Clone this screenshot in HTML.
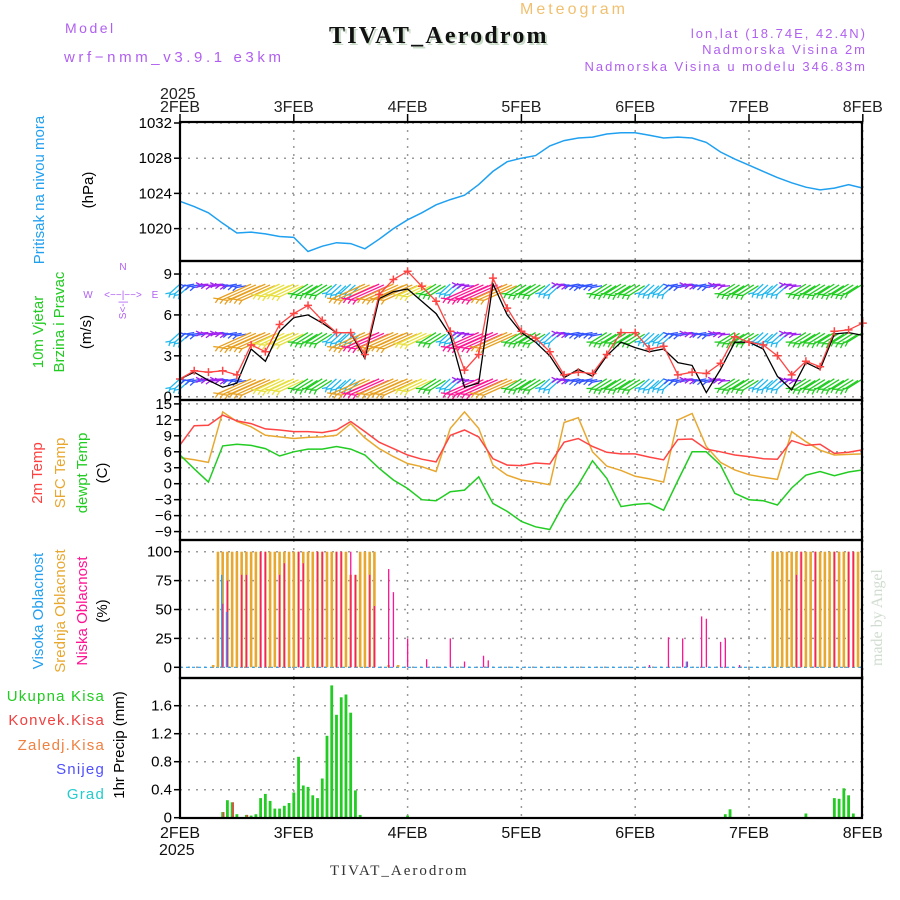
<!DOCTYPE html>
<html><head><meta charset="utf-8"><style>
html,body{margin:0;padding:0;background:#fff}
svg{display:block;font-family:"Liberation Sans",sans-serif}
</style></head><body>
<svg id="chart" width="900" height="900" viewBox="0 0 900 900" xmlns="http://www.w3.org/2000/svg">
<rect x="0" y="0" width="900" height="900" fill="#fff"/>
<text x="65" y="33" font-size="14" fill="#b060f0" letter-spacing="2.5">Model</text>
<text x="64" y="62" font-size="15" fill="#b060f0" letter-spacing="3.6">wrf−nmm_v3.9.1 e3km</text>
<text x="520" y="14" font-size="16" fill="#f0c070" letter-spacing="3">Meteogram</text>
<text x="331" y="45" font-size="24" font-weight="bold" font-family="Liberation Serif, serif" fill="#c8dcc8" letter-spacing="2.2">TIVAT_Aerodrom</text>
<text x="329" y="43" font-size="24" font-weight="bold" font-family="Liberation Serif, serif" fill="#111" letter-spacing="2.2">TIVAT_Aerodrom</text>
<g font-size="13" fill="#b060f0" text-anchor="end" letter-spacing="2">
<text x="867" y="38">lon,lat (18.74E, 42.4N)</text>
<text x="867" y="54">Nadmorska Visina 2m</text>
<text x="867" y="71">Nadmorska Visina u modelu 346.83m</text>
</g>
<text x="160" y="99" font-size="16" fill="#222">2025</text>
<text x="871" y="655" font-size="16" fill="#d0dcd0" font-family="Liberation Serif, serif" transform="rotate(-90 882 655)">made by Angel</text>
<text x="330" y="875" font-size="15" fill="#333" font-family="Liberation Serif, serif" letter-spacing="2">TIVAT_Aerodrom</text>
<text x="159" y="855" font-size="16" fill="#111">2025</text>
<g font-size="15" text-anchor="middle">
<text transform="translate(44,190) rotate(-90)" fill="#22a0f0">Pritisak na nivou mora</text>
<text transform="translate(93,190) rotate(-90)" fill="#000">(hPa)</text>
<text transform="translate(43,332) rotate(-90)" fill="#22cc22">10m Vjetar</text>
<text transform="translate(64,322) rotate(-90)" fill="#22cc22">Brzina i Pravac</text>
<text transform="translate(91,332) rotate(-90)" fill="#000">(m/s)</text>
<text transform="translate(42,473) rotate(-90)" fill="#ff4040">2m Temp</text>
<text transform="translate(65,473) rotate(-90)" fill="#e8a830">SFC Temp</text>
<text transform="translate(87,473) rotate(-90)" fill="#22cc22">dewpt Temp</text>
<text transform="translate(107,473) rotate(-90)" fill="#000">(C)</text>
<text transform="translate(43,611) rotate(-90)" fill="#22a0f0">Visoka Oblacnost</text>
<text transform="translate(65,611) rotate(-90)" fill="#e8a830">Srednja Oblacnost</text>
<text transform="translate(87,611) rotate(-90)" fill="#ff1493">Niska Oblacnost</text>
<text transform="translate(107,611) rotate(-90)" fill="#000">(%)</text>
<text transform="translate(124,745) rotate(-90)" fill="#000">1hr Precip (mm)</text>
</g>
<g font-size="15" text-anchor="end" letter-spacing="1.2">
<text x="105" y="701" fill="#22cc22">Ukupna Kisa</text>
<text x="105" y="725" fill="#f04040">Konvek.Kisa</text>
<text x="105" y="750" fill="#f08040">Zaledj.Kisa</text>
<text x="105" y="774" fill="#5050ff">Snijeg</text>
<text x="105" y="799" fill="#22cccc">Grad</text>
</g>
<g font-size="10" fill="#b060f0" text-anchor="middle">
<text x="123" y="270">N</text>
<text x="123" y="298">&lt;−−|−−&gt;</text>
<text x="88" y="298">W</text>
<text x="155" y="298">E</text>
<text transform="translate(126,310) rotate(-90)">S&lt;-|</text>
</g>
<g id="grid"></g>
<g id="marks"></g>
<g id="axes"></g>
</svg>
<script>
const days = ['2FEB','3FEB','4FEB','5FEB','6FEB','7FEB','8FEB'];
const pTicks = [1020,1024,1028,1032];
const wTicks = [0,3,6,9];
const tTicks = [-9,-6,-3,0,3,6,9,12,15];
const cTicks = [0,25,50,75,100];
const rTicks = [0,0.4,0.8,1.2,1.6];
const pressure = [1023.1,1022.5,1021.8,1020.6,1019.5,1019.6,1019.4,1019.1,1019.0,1017.4,1018.0,1018.4,1018.3,1017.7,1018.8,1020.0,1021.0,1021.8,1022.7,1023.3,1023.8,1025.0,1026.5,1027.6,1028.0,1028.3,1029.4,1030.0,1030.3,1030.4,1030.75,1030.9,1030.9,1030.6,1030.3,1030.4,1030.3,1029.8,1028.7,1027.9,1027.2,1026.5,1025.8,1025.2,1024.7,1024.4,1024.6,1025.0,1024.6];
const windRed = [1.3,1.9,1.8,1.9,1.6,3.8,3.3,5.3,6.1,6.7,5.6,4.7,4.7,3.1,7.5,8.6,9.2,8.1,7.0,4.8,1.95,3.1,8.7,6.5,4.8,4.3,3.3,1.6,1.8,1.7,3.1,4.7,4.7,3.5,3.7,1.6,1.8,1.7,2.45,4.4,4.0,3.8,3.0,1.6,2.6,2.2,4.8,4.9,5.4];
const windBlack = [1.3,1.8,1.2,0.7,1.0,3.5,2.6,4.8,5.8,6.0,5.4,4.7,4.7,2.8,7.2,7.7,7.9,7.0,6.1,4.5,0.7,1.0,8.3,6.0,4.7,4.0,3.0,1.4,2.0,1.5,3.0,4.0,3.6,3.3,3.5,2.5,2.3,0.3,2.0,4.0,4.0,3.5,1.5,0.5,2.5,2.0,4.6,4.7,4.5];
const windClass = [2,1,0,0,1,5,5,4,4,3,3,2,2,5,6,5,5,4,3,2,0,6,6,5,3,3,2,0,1,1,3,3,3,2,2,1,0,1,0,3,3,2,2,0,3,3,3,3,3];
const windRows = [8.2,4.65,1.25];
const temp2m = [7.3,10.9,11.0,12.9,11.8,11.3,10.3,10.1,9.8,9.8,9.6,10.1,11.7,9.8,7.8,6.6,5.4,4.6,4.1,9.1,10.1,8.8,4.7,3.5,3.4,3.9,3.7,7.8,8.5,7.0,5.9,5.6,5.6,5.0,4.5,8.3,8.4,6.5,6.0,5.4,5.1,4.7,4.6,8.1,7.2,7.4,5.7,5.9,6.4];
const tempSfc = [4.9,4.5,4.0,13.5,11.7,10.7,9.1,8.8,8.5,8.7,8.8,9.1,11.3,8.6,6.6,5.1,3.8,3.2,2.3,10.4,13.5,10.4,3.5,1.6,0.7,0.3,-0.2,11.5,12.4,6.0,3.3,2.5,1.4,0.9,0.3,12.0,13.2,7.0,4.0,2.6,1.7,1.2,0.8,9.8,7.9,6.3,5.4,5.5,5.6];
const tempDew = [5.4,2.8,0.3,7.1,7.4,7.2,6.6,5.2,6.0,6.5,6.5,7.0,6.5,5.4,2.9,0.7,-0.9,-3.0,-3.2,-1.5,-1.2,1.3,-3.7,-5.2,-7.1,-8.1,-8.6,-3.7,-0.2,4.3,1.0,-4.3,-3.9,-3.7,-5.0,0.6,6.0,6.0,3.5,-1.8,-3.0,-3.2,-4.0,-0.8,1.6,2.3,1.5,2.2,2.6];
const midHours = [7,8,9,10,11,12,13,14,15,16,17,18,19,20,21,22,23,24,25,26,27,28,29,30,31,32,33,34,35,36,37,38,39,40,41,44,46,125,126,127,128,129,130,131,132,133,134,135,136,137,138,139,140,141,142,143];
const midCloud = [2,100,100,100,100,100,100,100,100,100,100,100,100,100,100,100,100,100,100,100,100,100,100,100,100,100,100,100,100,80,80,100,100,100,100,2,2,100,100,100,100,100,100,100,100,100,100,100,100,100,100,100,100,100,100,100];
const lowHours = [9,10,13,14,17,18,21,22,25,26,29,30,33,34,36,37,40,41,44,45,48,52,57,60,64,65,99,103,106,107,110,111,114,115,118,130,131,134,138,141,142];
const lowCloud = [55,75,80,80,100,100,80,90,100,90,100,100,100,100,100,80,80,53,85,65,25,7,25,5,10,6,2,26,25,5,44,42,22,25,2,80,100,100,100,100,100];
const highHours = [9,10,107];
const highCloud = [80,48,5];
const rainHours = [9,10,11,12,14,15,16,17,18,19,20,21,22,23,24,25,26,27,28,29,30,31,32,33,34,35,36,37,38,48,115,116,132,138,139,140,141,142];
const rainTotal = [0.08,0.25,0.22,0.05,0.04,0.03,0.05,0.28,0.34,0.24,0.13,0.13,0.17,0.21,0.36,0.87,0.46,0.44,0.32,0.28,0.56,1.17,1.89,1.47,1.72,1.76,1.5,0.39,0.04,0.03,0.05,0.12,0.06,0.28,0.27,0.42,0.32,0.06];
const convHours = [9,11,14];
const convRain = [0.08,0.22,0.04];

const X0=180, X1=862, DAY=113.8;
const xDay = d => X0 + d*DAY;
const xStep = i => xDay(i*0.125);
const xHour = h => xDay(h/24);
const pY = v => 123 + (1032-v)*8.8;
const wY = v => 396.7 - v*13.63;
const tY = v => 483.7 - v*5.32;
const cY = v => 667.3 - v*1.156;
const rY = v => 817.7 - v*70;
const classColor = ['#a020f0','#3355ff','#22b8ee','#22cc22','#e8e040','#e8a020','#ff1493'];
const classLen = [8,10,13,18,26,36,36];
const classAng = [185,190,222,212,205,204,204];

const NS='http://www.w3.org/2000/svg';
function mk(parent, tag, attrs){const e=document.createElementNS(NS,tag);for(const k in attrs)e.setAttribute(k,attrs[k]);parent.appendChild(e);return e;}
const grid=document.getElementById('grid'), marks=document.getElementById('marks'), axes=document.getElementById('axes');
const panels=[{t:122,b:261,ticks:pTicks,f:pY,fmt:v=>v},{t:261,b:400,ticks:wTicks,f:wY,fmt:v=>v},{t:400,b:540,ticks:tTicks,f:tY,fmt:v=>v<0?'−'+(-v):v},{t:540,b:678,ticks:cTicks,f:cY,fmt:v=>v},{t:678,b:818,ticks:rTicks,f:rY,fmt:v=>v===0?'0':v.toFixed(1)}];
panels.forEach((p,pi)=>{
  p.ticks.forEach(v=>{
    const y=p.f(v);
    const g=mk(grid,'line',{x1:X0,x2:X1,y1:y,y2:y,stroke:'#999','stroke-width':1.5,'stroke-dasharray':'2,6'});
    
    
    const tk=mk(axes,'line',{x1:X0-6,x2:X0,y1:y,y2:y,stroke:'#000','stroke-width':1.5});
    
    
    const lb=mk(axes,'text',{x:X0-8,y:y+5,'font-size':15,'text-anchor':'end',fill:'#000'});
    lb.textContent=p.fmt(v);
    
    
  });
  for(let d=1;d<days.length;d++){
    const x=xDay(d);
    const g=mk(grid,'line',{x1:x,x2:x,y1:p.t,y2:p.b,stroke:'#999','stroke-width':1.5,'stroke-dasharray':'2,6'});
    
    
  }
});
days.forEach((d,i)=>{
  const x=xDay(i);
  const t1=mk(axes,'text',{x:x,y:112,'font-size':16,'text-anchor':'middle',fill:'#222'});t1.textContent=d;
  
  
  const t2=mk(axes,'text',{x:x,y:838,'font-size':16,'text-anchor':'middle',fill:'#111'});t2.textContent=d;
  
  
  const k=mk(axes,'line',{x1:x,x2:x,y1:114,y2:122,stroke:'#000','stroke-width':1.5});
  
  
});
function poly(f,arr,color,name,w){
  const pts=arr.map((v,i)=>xStep(i).toFixed(1)+','+f(v).toFixed(1)).join(' ');
  const e=mk(marks,'polyline',{points:pts,fill:'none',stroke:color,'stroke-width':w||1.5});
  
  
}
poly(pY,pressure,'#1fa0f0','pressure-line');
windRows.forEach((r,ri)=>{
  windClass.forEach((c,i)=>{
    for(let k=0;k<3;k++){
      if(i===windClass.length-1&&k>0)break;
      const x=xStep(i)+k*4.74, y=wY(r)+(k-1)*0.8;
      const a=classAng[c]*Math.PI/180, L=classLen[c];
      const x2=x+L*Math.cos(a), y2=y-L*Math.sin(a);
      const g=mk(marks,'g',{stroke:classColor[c],'stroke-width':1.3,fill:'none'});
      
      
      mk(g,'line',{x1:x,y1:y,x2:x2,y2:y2});
      const h1=a+2.6, h2=a-2.6;
      mk(g,'polyline',{points:(x2-5*Math.cos(h1))+','+(y2+5*Math.sin(h1))+' '+x2+','+y2+' '+(x2-5*Math.cos(h2))+','+(y2+5*Math.sin(h2))});
    }
  });
});
poly(wY,windBlack,'#000','wind-speed-line',1.3);
poly(wY,windRed,'#ff4444','wind-gust-line',1.3);
windRed.forEach((v,i)=>{
  const x=xStep(i),y=wY(v);
  const m=mk(marks,'path',{d:`M${x-4},${y}H${x+4}M${x},${y-4}V${y+4}`,stroke:'#ff4444','stroke-width':1.5});
  
  
});
poly(tY,tempSfc,'#e8a830','sfc-temp-line');
poly(tY,temp2m,'#ff4444','temp-2m-line');
poly(tY,tempDew,'#22cc22','dewpoint-line');
const base=mk(marks,'line',{x1:X0,x2:X1,y1:cY(0),y2:cY(0),stroke:'#22a0f0','stroke-width':1.2,'stroke-dasharray':'3,3'});


midHours.forEach((h,i)=>{
  const x=xHour(h),y=cY(midCloud[i]);
  const b=mk(marks,'rect',{x:x-1.3,y:y,width:2.6,height:cY(0)-y,fill:'#e8a830'});
  
  
});
lowHours.forEach((h,i)=>{
  const x=xHour(h),y=cY(lowCloud[i]);
  const b=mk(marks,'rect',{x:x-0.6,y:y,width:1.3,height:cY(0)-y,fill:'#ff1493'});
  
  
});
highHours.forEach((h,i)=>{
  const x=xHour(h)-1,y=cY(highCloud[i]);
  const b=mk(marks,'rect',{x:x-0.6,y:y,width:1.3,height:cY(0)-y,fill:'#22a0f0'});
  
  
});
rainHours.forEach((h,i)=>{
  const x=xHour(h),y=rY(rainTotal[i]);
  const b=mk(marks,'rect',{x:x-1.4,y:y,width:2.8,height:rY(0)-y,fill:'#22cc22'});
  
  
});
convHours.forEach((h,i)=>{
  const x=xHour(h),y=rY(convRain[i]);
  const b=mk(marks,'rect',{x:x+0.2,y:y,width:1.6,height:rY(0)-y,fill:'#f04040'});
  
  
});
panels.forEach(p=>{
  const f=mk(axes,'rect',{x:X0,y:p.t,width:X1-X0,height:p.b-p.t,fill:'none',stroke:'#000','stroke-width':2.2});
  
  
});
</script>
</body></html>
